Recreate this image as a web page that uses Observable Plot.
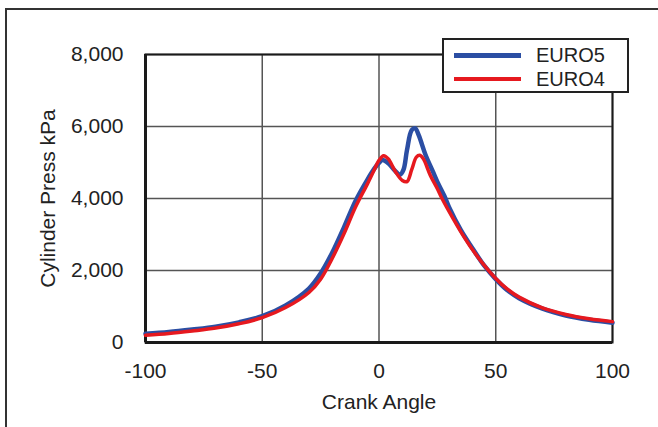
<!DOCTYPE html>
<html>
<head>
<meta charset="utf-8">
<script src="https://cdn.jsdelivr.net/npm/d3@7"></script>
<script src="https://cdn.jsdelivr.net/npm/@observablehq/plot@0.6"></script>
<style>
  html, body { margin: 0; padding: 0; background: #fff; overflow: hidden; }
  #wrap { position: relative; width: 658px; height: 427px; }
  #outer { position: absolute; left: 5px; top: 8px; width: 700px; height: 500px;
           border-left: 2px solid #333; border-top: 2px solid #333; box-sizing: border-box; }
  #legend { position: absolute; left: 442px; top: 38px; width: 187px; height: 55px;
            border: 2px solid #222; background: #fff; box-sizing: border-box;
            font-family: "Liberation Sans", Arial, sans-serif; font-size: 20px; color: #222; }
  .item { position: absolute; left: 0; width: 100%; height: 24px; }
  .sw { position: absolute; left: 10px; width: 67px; top: 50%; }
  .lab { position: absolute; left: 92px; top: 0; line-height: 24px; }
</style>
</head>
<body>
<div id="wrap">
  <div id="outer"></div>
  <div id="chart"></div>
  <div id="legend"></div>
</div>
<script>
// Crank angle (deg) and cylinder pressure (kPa)
const anglesEuro5 = [-100, -90, -80, -70, -60, -50, -40, -30, -25, -20, -15, -10, -5, -2, 0, 1.5, 4, 7, 9, 10.5, 12, 14, 15.5, 17, 20, 23, 25, 28, 30, 35, 40, 45, 50, 55, 60, 70, 80, 90, 100];
const pressureEuro5 = [240, 290, 360, 440, 560, 730, 1030, 1500, 1920, 2500, 3200, 3940, 4520, 4830, 4990, 5070, 4980, 4760, 4660, 4800, 5350, 5900, 5950, 5760, 5200, 4760, 4460, 4070, 3760, 3130, 2620, 2140, 1760, 1450, 1230, 940, 750, 630, 550];
const anglesEuro4 = [-100, -90, -80, -70, -60, -50, -40, -30, -25, -20, -15, -10, -5, -2, 0, 2, 4, 7, 10, 12, 14, 16, 17.5, 19, 22, 25, 27, 30, 35, 40, 45, 50, 55, 60, 70, 80, 90, 100];
const pressureEuro4 = [200, 250, 320, 400, 520, 690, 970, 1390, 1760, 2340, 3020, 3770, 4400, 4800, 5060, 5190, 5100, 4750, 4500, 4470, 4800, 5150, 5200, 5100, 4640, 4270, 4000, 3640, 3080, 2580, 2150, 1780, 1480, 1260, 960, 780, 660, 580];
const seriesNames = ["EURO5", "EURO4"];
const seriesColors = ["#2b4ea3", "#e6191f"];
const xTicks = [-100, -50, 0, 50, 100];
const yTicks = [0, 2000, 4000, 6000, 8000];

const euro5 = anglesEuro5.map((a, i) => ({angle: a, p: pressureEuro5[i]}));
const euro4 = anglesEuro4.map((a, i) => ({angle: a, p: pressureEuro4[i]}));

const chart = Plot.plot({
  width: 658,
  height: 427,
  marginLeft: 145,
  marginRight: 46,
  marginTop: 54,
  marginBottom: 85,
  style: {fontFamily: "Liberation Sans, Arial, sans-serif", fontSize: "21px", color: "#222", background: "transparent"},
  x: {domain: [-100, 100]},
  y: {domain: [0, 8000]},
  marks: [
    Plot.gridX(xTicks, {stroke: "#555", strokeOpacity: 1, strokeWidth: 1.5}),
    Plot.gridY(yTicks, {stroke: "#555", strokeOpacity: 1, strokeWidth: 1.5}),
    Plot.frame({stroke: "#1a1a1a", strokeWidth: 2}),
    Plot.ruleX([-100], {stroke: "#1a1a1a", strokeWidth: 3}),
    Plot.ruleY([0], {stroke: "#1a1a1a", strokeWidth: 3}),
    Plot.axisX(xTicks, {tickSize: 0, tickPadding: 21, tickFormat: d => String(d), label: "Crank Angle", labelAnchor: "center", labelArrow: "none", labelOffset: 66}),
    Plot.axisY(yTicks, {tickSize: 0, tickPadding: 22, tickFormat: d3.format(","), label: "Cylinder Press kPa", labelAnchor: "center", labelArrow: "none", labelOffset: 105}),
    Plot.line(euro5, {x: "angle", y: "p", stroke: seriesColors[0], strokeWidth: 4.5, curve: "catmull-rom"}),
    Plot.line(euro4, {x: "angle", y: "p", stroke: seriesColors[1], strokeWidth: 3.5, curve: "catmull-rom"})
  ]
});
document.getElementById("chart").appendChild(chart);

const legend = document.getElementById("legend");
seriesNames.forEach((name, i) => {
  const item = document.createElement("div");
  item.className = "item";
  item.style.top = (i === 0 ? 3 : 27) + "px";
  const sw = document.createElement("div");
  sw.className = "sw";
  sw.style.borderTop = (i === 0 ? 5 : 4) + "px solid " + seriesColors[i];
  sw.style.marginTop = (i === 0 ? -2.5 : -2) + "px";
  const lab = document.createElement("div");
  lab.className = "lab";
  lab.textContent = name;
  item.appendChild(sw);
  item.appendChild(lab);
  legend.appendChild(item);
});
</script>
</body>
</html>
